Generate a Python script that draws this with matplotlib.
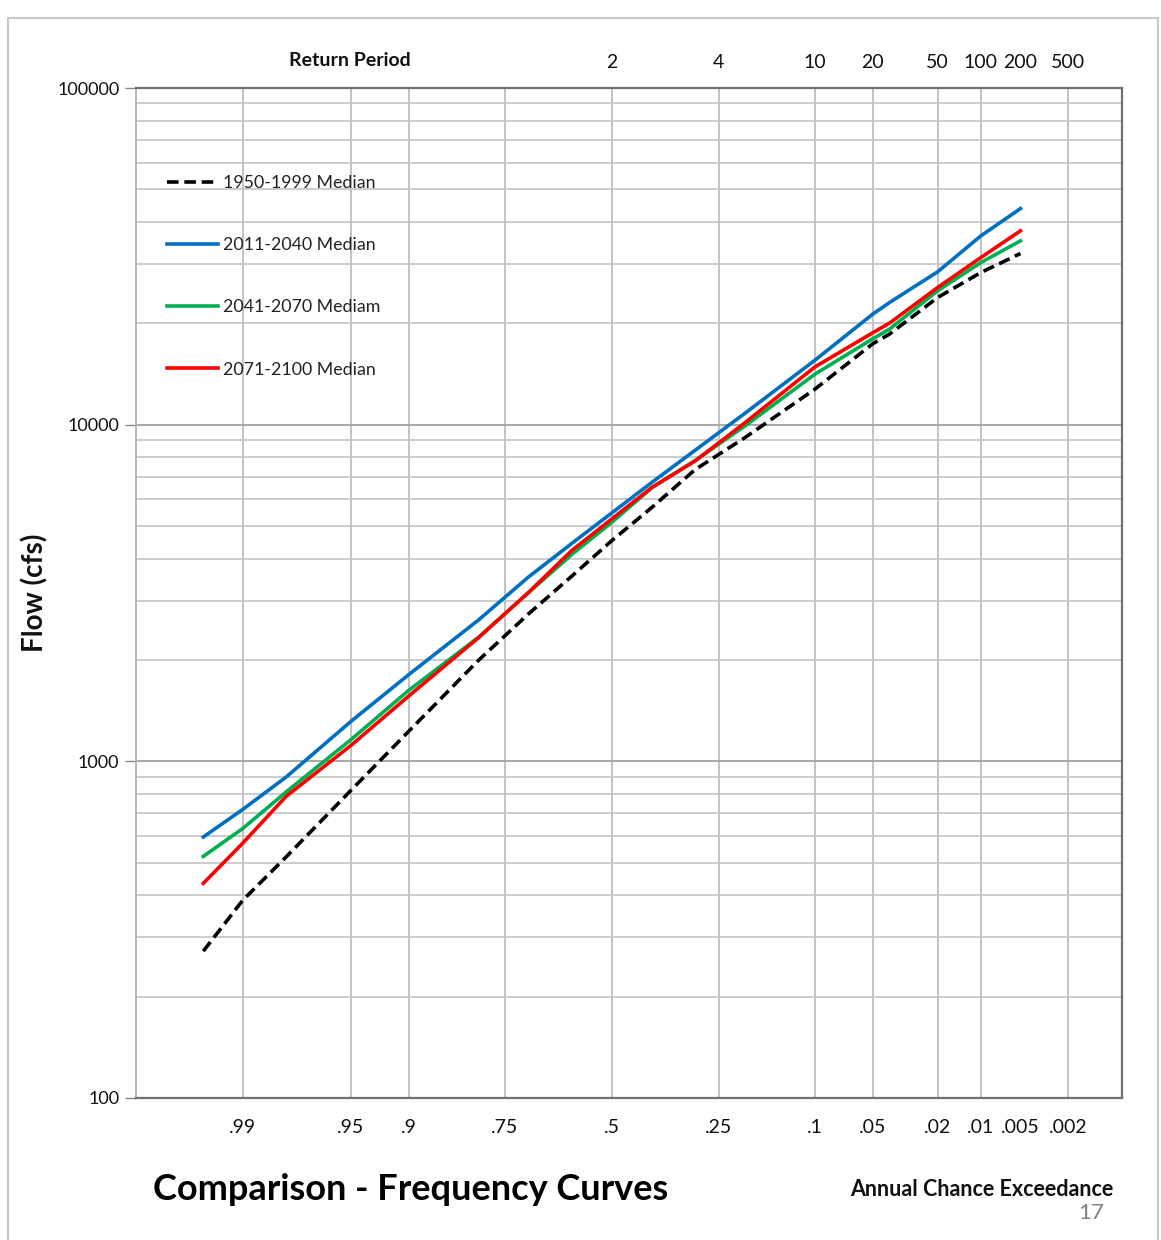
import numpy as np
import matplotlib
matplotlib.use('Agg')
import matplotlib.pyplot as plt
from matplotlib.ticker import FixedLocator, FixedFormatter, FuncFormatter, NullLocator
from matplotlib.patches import Rectangle
from statistics import NormalDist

plt.rcParams['font.family'] = ['Lato', 'DejaVu Sans']

# annual chance exceedance of each ordinate
aep = [0.995, 0.99, 0.98, 0.95, 0.9, 0.8, 0.7, 0.6, 0.5, 0.4, 0.3, 0.2,
       0.1, 0.05, 0.04, 0.02, 0.01, 0.005]

flow_1950_1999 = [273, 387, 520, 820, 1227, 1994, 2744, 3547, 4527, 5684,
                  7353, 9170, 12763, 17394, 18582, 23862, 28310, 32240]
flow_2011_2040 = [596, 720, 898, 1314, 1808, 2627, 3532, 4436, 5470, 6743,
                  8390, 10833, 15558, 21304, 23063, 28446, 36378, 43835]
flow_2041_2070 = [522, 632, 811, 1160, 1624, 2334, 3172, 4114, 5130, 6502,
                  7821, 9932, 14140, 17995, 19228, 24983, 30310, 35160]
flow_2071_2100 = [434, 572, 787, 1115, 1562, 2328, 3179, 4227, 5251, 6515,
                  7800, 10158, 14862, 18750, 20033, 25553, 31365, 37650]

grid_aep = [0.99, 0.95, 0.9, 0.75, 0.5, 0.25, 0.1, 0.05, 0.02, 0.01, 0.002]
grid_labels = ['.99', '.95', '.9', '.75', '.5', '.25', '.1', '.05', '.02', '.01', '.002']
rp_aep = [0.5, 0.25, 0.1, 0.05, 0.02, 0.01, 0.005, 0.002]
rp_labels = ['2', '4', '10', '20', '50', '100', '200', '500']

nd = NormalDist()
_ppf = np.vectorize(nd.inv_cdf, otypes=[float])
_cdf = np.vectorize(nd.cdf, otypes=[float])


def to_z(p):
    p = np.clip(np.asarray(p, dtype=float), 1e-9, 1 - 1e-9)
    return _ppf(p)


def from_z(z):
    return _cdf(np.asarray(z, dtype=float))


def prob_axis(a):
    # normal probability scale, high exceedance on the left
    a.set_xscale('function', functions=(to_z, from_z))
    a.set_xlim(float(from_z(3.0)), float(from_z(-3.216)))


fig = plt.figure(figsize=(11.61, 12.40), dpi=100)
ax = fig.add_axes([136 / 1161, 1 - 1098 / 1240, 986 / 1161, 1010 / 1240])
prob_axis(ax)
ax.set_yscale('log')
ax.set_ylim(100, 100000)

ax.plot(aep, flow_1950_1999, color='black', lw=2.6, dashes=(3.2, 1.6), label='1950-1999 Median', zorder=5)
ax.plot(aep, flow_2011_2040, color='#0070C0', lw=2.6, label='2011-2040 Median', zorder=4)
ax.plot(aep, flow_2041_2070, color='#00B050', lw=2.6, label='2041-2070 Mediam', zorder=3)
ax.plot(aep, flow_2071_2100, color='#FF0000', lw=2.6, label='2071-2100 Median', zorder=4)

# bottom axis: grid ticks as major, .005 only as a labelled minor tick
ax.xaxis.set_major_locator(FixedLocator(grid_aep))
ax.xaxis.set_major_formatter(FixedFormatter(grid_labels))
ax.xaxis.set_minor_locator(FixedLocator([0.005]))
ax.xaxis.set_minor_formatter(FixedFormatter(['.005']))
ax.tick_params(axis='x', which='both', length=0, pad=15, labelsize=14, colors='#111111')
ax.yaxis.set_major_formatter(FuncFormatter(lambda v, _: f'{v:.0f}'))
ax.tick_params(axis='y', which='major', length=8, width=1, color='#888888', pad=4,
               labelsize=13, labelcolor='#111111')
ax.tick_params(axis='y', which='minor', length=0)

ax.grid(True, axis='x', which='major', color='#BDBDBD', lw=1.3)
ax.grid(True, axis='y', which='major', color='#A8A8A8', lw=1.4)
ax.grid(True, axis='y', which='minor', color='#C4C4C4', lw=1.2)
ax.set_axisbelow(True)

for side in ['top', 'right', 'bottom']:
    ax.spines[side].set_color('#707070')
    ax.spines[side].set_linewidth(1.6)
ax.spines['left'].set_color('#B0B0B0')
ax.spines['left'].set_linewidth(1.3)

# top axis: return period
top = ax.twiny()
prob_axis(top)
top.xaxis.set_major_locator(FixedLocator(rp_aep))
top.xaxis.set_major_formatter(FixedFormatter(rp_labels))
top.xaxis.set_minor_locator(NullLocator())
top.tick_params(axis='x', length=0, pad=12, labelsize=14, colors='#111111')
for s in top.spines.values():
    s.set_visible(False)

leg = ax.legend(loc='upper left', bbox_to_anchor=(0.031, 0.914), frameon=False,
                fontsize=12.8, handlelength=2.9, handletextpad=0.3, labelspacing=2.6,
                borderpad=0, borderaxespad=0)
for t in leg.get_texts():
    t.set_color('#222222')

fig.text(350 / 1161, 1 - 61 / 1240, 'Return Period', ha='center', va='center',
         fontsize=14, fontweight='bold', color='#111111')
fig.text(35 / 1161, 1 - 593 / 1240, 'Flow (cfs)', ha='center', va='center',
         rotation=90, fontsize=20, fontweight='bold', color='#111111')
fig.text(153 / 1161, 1 - 1189 / 1240, 'Comparison - Frequency Curves', ha='left',
         va='center', fontsize=26, fontweight='bold', color='black')
fig.text(1113 / 1161, 1 - 1190 / 1240, 'Annual Chance Exceedance', ha='right',
         va='center', fontsize=15.5, fontweight='bold', color='#111111')
fig.text(1091 / 1161, 1 - 1213 / 1240, '17', ha='center', va='center',
         fontsize=16, color='#7F7F7F')

# slide frame
fig.patches.append(Rectangle((8 / 1161, -0.01), 1150 / 1161, 1 - 18 / 1240 + 0.01,
                             transform=fig.transFigure, fill=False,
                             edgecolor='#C8C8C8', lw=1.5))

fig.savefig('out.png', dpi=100)
